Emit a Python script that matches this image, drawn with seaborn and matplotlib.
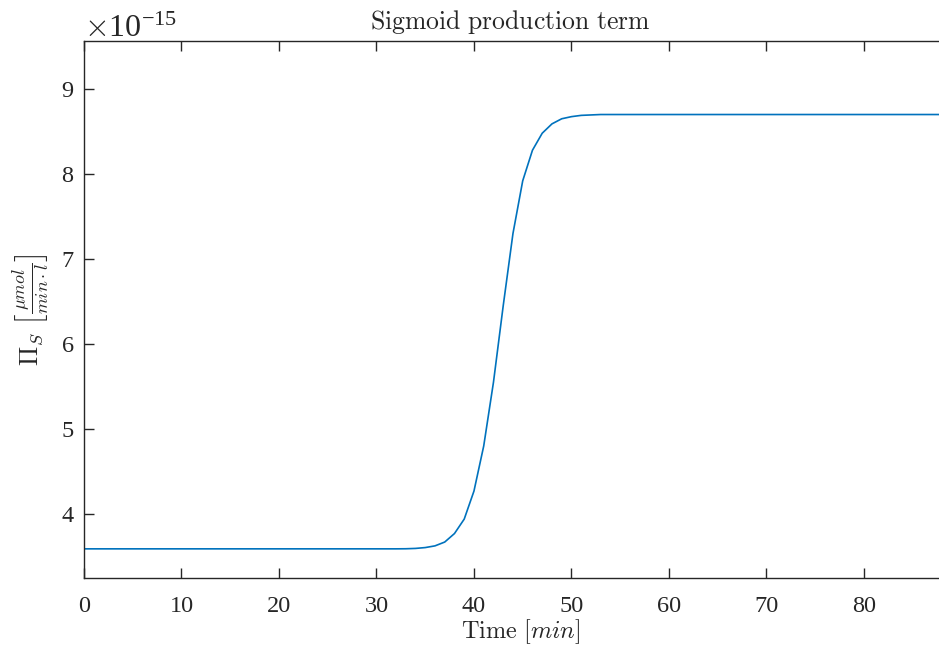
import numpy as np
import pandas as pd
import matplotlib
matplotlib.use("Agg")
import matplotlib.pyplot as plt
import seaborn as sns
from matplotlib.ticker import ScalarFormatter

# Data (values in units of 1e-15 umol/(min*l)), one point per minute
time_min = list(range(0, 101))
low = [3.59] * 33
rise = [3.591, 3.595, 3.605, 3.625, 3.67, 3.77, 3.94, 4.27, 4.80, 5.55,
        6.45, 7.30, 7.92, 8.28, 8.48, 8.59, 8.65, 8.675, 8.69, 8.695]
high = [8.70] * (len(time_min) - len(low) - len(rise))
pi_s = low + rise + high
scale = 1e-15

x_ticks = [0, 10, 20, 30, 40, 50, 60, 70, 80]
y_ticks = [4, 5, 6, 7, 8, 9]

df = pd.DataFrame({"t": time_min, "v": np.array(pi_s) * scale})

sns.set_theme(style="white")
plt.rcParams["font.family"] = ["Liberation Serif", "DejaVu Serif"]
plt.rcParams["mathtext.fontset"] = "cm"

fig = plt.figure(figsize=(9.39, 6.49), dpi=100)
ax = fig.add_axes([84 / 939, 1 - 578 / 649, 1 - 84 / 939 + 0.02, (578 - 41) / 649])

sns.lineplot(data=df, x="t", y="v", ax=ax, color="#0072BD", linewidth=1.2)

ax.set_xlim(0, 87.7 + 0.02 * 939 / 9.75)
ax.set_ylim(3.247e-15, 9.565e-15)
ax.set_xticks(x_ticks)
ax.set_yticks([y * scale for y in y_ticks])
fmt = ScalarFormatter(useMathText=True)
fmt.set_powerlimits((0, 0))
ax.yaxis.set_major_formatter(fmt)
ax.yaxis.get_offset_text().set_fontsize(23)
ax.yaxis.get_offset_text().set_color("#262626")

for s in ["left", "bottom", "top"]:
    ax.spines[s].set_visible(True)
    ax.spines[s].set_color("#262626")
    ax.spines[s].set_linewidth(1.0)
ax.spines["right"].set_visible(False)

ax.tick_params(axis="both", direction="in", length=7, width=1.0, color="#262626",
               labelsize=17.5, labelcolor="#262626", top=True, bottom=True, left=True,
               right=False)
ax.tick_params(axis="x", pad=13)
ax.tick_params(axis="y", pad=7)

ax.set_xlabel(r"$\mathrm{Time}\ [min]$", fontsize=17.5, color="#262626", labelpad=0)
ax.set_ylabel(r"$\Pi_S\ \left[\frac{\mu mol}{min\cdot l}\right]$", fontsize=18.5,
              color="#262626", labelpad=6)
ax.set_title(r"$\mathrm{Sigmoid\ production\ term}$", fontsize=18.5, color="#262626",
             pad=9, x=(510 - 84) / (958 - 84))

fig.savefig("out.png", dpi=100)
